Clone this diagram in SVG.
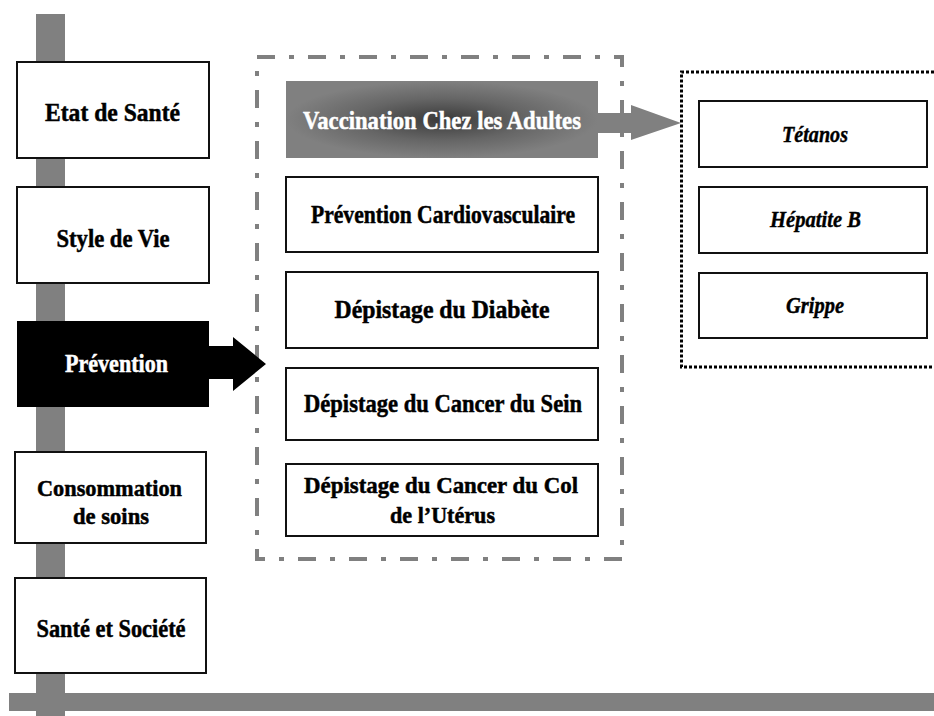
<svg xmlns="http://www.w3.org/2000/svg" width="934" height="716" viewBox="0 0 934 716">
<defs>
<style>
.box{fill:#fff;stroke:#111;stroke-width:2}
.t{font-family:"Liberation Serif","Times New Roman",serif;font-weight:bold;font-size:26px;text-anchor:middle;fill:#000;stroke:#000;stroke-width:0.5}
.s{font-size:24px}
.ti{font-family:"Liberation Serif","Times New Roman",serif;font-weight:bold;font-style:italic;font-size:23px;text-anchor:middle;fill:#000;stroke:#000;stroke-width:0.4}
.w{fill:#fff;stroke:#fff}
.bar{fill:#808080}
</style>
<radialGradient id="vg" cx="0.5" cy="0.5" r="0.5" fx="0.5" fy="0.5">
<stop offset="0" stop-color="#3a3a3a"/>
<stop offset="0.55" stop-color="#666"/>
<stop offset="1" stop-color="#808080"/>
</radialGradient>
</defs>
<rect width="934" height="716" fill="#fff"/>
<g id="axes">
<rect class="bar" x="36" y="14" width="29" height="702"/>
<rect class="bar" x="9" y="693" width="925" height="18"/>
</g>
<g id="group-box">
<rect x="257" y="57" width="365" height="502" fill="none" stroke="#808080" stroke-width="4" stroke-dasharray="18 14 5 14"/>
</g>
<g id="vaccine-box">
<path d="M934,72 H681.5 V367 H934" fill="none" stroke="#000" stroke-width="3" stroke-dasharray="3 2"/>
</g>
<g id="connectors">
<polygon points="209,346 233,346 233,337 266,364 233,391 233,379 209,379" fill="#000"/>
<polygon points="598,113 631,113 631,105 681,123 631,140 631,133 598,133" fill="#808080"/>
</g>
<g id="etat"><rect class="box" x="17" y="62" width="192" height="96"/><text class="t" x="112.5" y="121" textLength="135" lengthAdjust="spacingAndGlyphs">Etat de Santé</text></g>
<g id="style"><rect class="box" x="17" y="187" width="192" height="96"/><text class="t" x="113" y="247" textLength="113" lengthAdjust="spacingAndGlyphs">Style de Vie</text></g>
<g id="prevention"><rect x="17" y="321" width="192" height="86" fill="#000"/><text class="t w" x="116.5" y="372" textLength="103" lengthAdjust="spacingAndGlyphs">Prévention</text></g>
<g id="consommation"><rect class="box" x="15" y="452" width="191" height="91"/><text class="t s" x="109.5" y="496" textLength="145" lengthAdjust="spacingAndGlyphs">Consommation</text><text class="t s" x="111" y="524" textLength="76" lengthAdjust="spacingAndGlyphs">de soins</text></g>
<g id="societe"><rect class="box" x="15" y="578" width="191" height="95"/><text class="t" x="111" y="637" textLength="149" lengthAdjust="spacingAndGlyphs">Santé et Société</text></g>
<g id="vaccination"><rect x="286" y="81" width="312" height="77" fill="url(#vg)"/><text class="t w" x="442" y="129" textLength="278" lengthAdjust="spacingAndGlyphs">Vaccination Chez les Adultes</text></g>
<g id="cardio"><rect class="box" x="286" y="177" width="312" height="75"/><text class="t" x="443" y="223" textLength="264" lengthAdjust="spacingAndGlyphs">Prévention Cardiovasculaire</text></g>
<g id="diabete"><rect class="box" x="286" y="272" width="312" height="76"/><text class="t" x="442" y="318" textLength="215" lengthAdjust="spacingAndGlyphs">Dépistage du Diabète</text></g>
<g id="sein"><rect class="box" x="286" y="368" width="312" height="72"/><text class="t" x="443" y="412" textLength="278" lengthAdjust="spacingAndGlyphs">Dépistage du Cancer du Sein</text></g>
<g id="col"><rect class="box" x="286" y="464" width="312" height="72"/><text class="t s" x="441" y="493" textLength="274" lengthAdjust="spacingAndGlyphs">Dépistage du Cancer du Col</text><text class="t s" x="442.5" y="523" textLength="105" lengthAdjust="spacingAndGlyphs">de l’Utérus</text></g>
<g id="tetanos"><rect class="box" x="699" y="101" width="228" height="66"/><text class="ti" x="815" y="142" textLength="66" lengthAdjust="spacingAndGlyphs">Tétanos</text></g>
<g id="hepatite"><rect class="box" x="699" y="187" width="228" height="66"/><text class="ti" x="815.5" y="227" textLength="91" lengthAdjust="spacingAndGlyphs">Hépatite B</text></g>
<g id="grippe"><rect class="box" x="699" y="273" width="228" height="65"/><text class="ti" x="815" y="313" textLength="58" lengthAdjust="spacingAndGlyphs">Grippe</text></g>
</svg>
